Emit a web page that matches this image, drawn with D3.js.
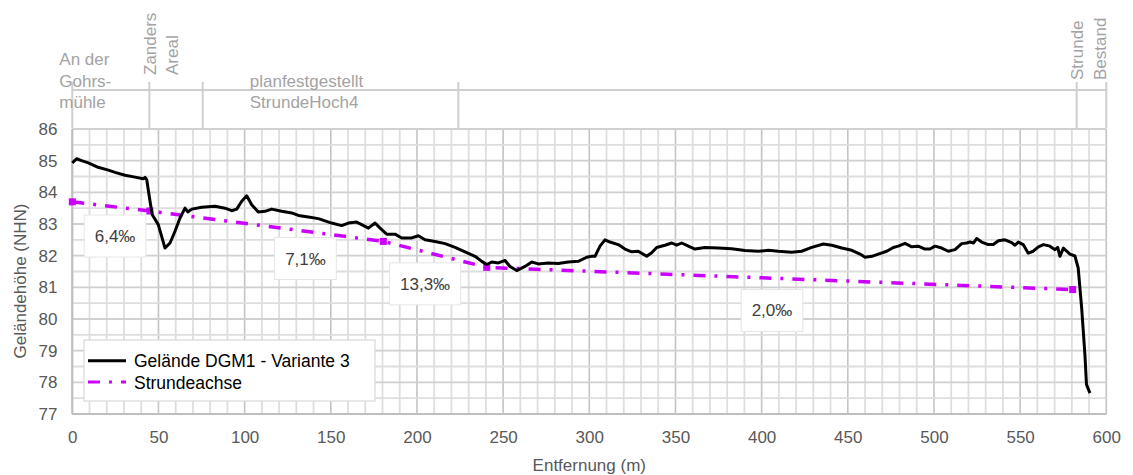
<!DOCTYPE html>
<html><head><meta charset="utf-8">
<script src="https://cdn.jsdelivr.net/npm/d3@7"></script>
<style>body{margin:0;background:#fff;} text{font-family:"Liberation Sans",Arial,sans-serif;}</style>
</head><body><svg id="c" width="1133" height="475"></svg>
<script>
// Terrain profile "Gelände DGM1 - Variante 3"
const distance = [0,2.5,5.4,9.3,15,20.9,24.8,30.6,36.4,41.2,42.2,43.2,45.1,46.4,49.9,53.8,56.7,59.6,62.5,65.4,67,69.3,75.1,82.8,88.6,92.5,95.4,98.3,101.2,104.1,107.9,111.8,115.7,121.5,127.3,131.2,137,142.8,146.6,150.5,156.3,160.2,165,167.9,171.8,175.7,178.6,182.4,187.3,191.1,197,200.8,204.7,210.5,216.3,222.1,227.9,233.7,237.6,240.5,243.4,247.2,251.1,254,257.9,262.7,266.6,270.4,276.2,282,287.8,293.6,298.5,301.4,303.3,306.2,309.1,312,316.8,320.7,324.6,328.4,333.3,336.2,339.1,343.9,347.8,350.7,353.6,357.5,361.3,367.1,374.9,382.6,390.3,398.1,403.9,409.7,417.4,423.2,429.1,435.8,440.7,446.5,452.3,457.1,460,463.9,467.7,472.6,476.4,479.3,483.2,487.1,490.9,494.8,497.7,500.6,504.5,508.3,512.2,516.1,519,520.9,522.9,524.8,527.7,531.5,534.4,537.4,541.2,545.1,547,548.9,551.8,554.7,557.6,560.6,563.5,567.3,570.2,571.8,573.1,575.1,577,578.9,581.8,583.7,585.7,587.6,588.5,590.5];
const elevation = [84.93,85.06,85.00,84.93,84.79,84.70,84.63,84.54,84.48,84.43,84.47,84.40,83.72,83.29,82.98,82.24,82.40,82.77,83.19,83.50,83.38,83.47,83.53,83.56,83.50,83.42,83.47,83.72,83.89,83.61,83.38,83.40,83.47,83.40,83.35,83.27,83.22,83.17,83.10,83.03,82.95,83.03,83.06,82.98,82.87,83.03,82.87,82.68,82.68,82.56,82.56,82.63,82.50,82.45,82.38,82.26,82.12,81.98,81.82,81.72,81.80,81.77,81.85,81.66,81.53,81.66,81.80,81.74,81.77,81.75,81.80,81.82,81.95,81.98,81.98,82.30,82.50,82.43,82.35,82.21,82.12,82.14,81.98,82.09,82.26,82.33,82.40,82.33,82.40,82.30,82.21,82.26,82.24,82.22,82.16,82.14,82.17,82.14,82.11,82.14,82.26,82.37,82.33,82.24,82.17,82.05,81.95,81.98,82.05,82.14,82.26,82.30,82.39,82.28,82.30,82.21,82.21,82.30,82.24,82.14,82.19,82.38,82.40,82.43,82.40,82.54,82.43,82.35,82.35,82.47,82.50,82.41,82.33,82.43,82.35,82.08,82.14,82.28,82.35,82.30,82.19,82.26,81.98,82.24,82.14,82.05,81.99,81.61,80.35,78.87,77.93,77.66];

// Strundeachse
const axisDistance = [0,45,180.5,240.5,580.5];
const axisElevation = [83.70,83.41,82.45,81.63,80.93];

// Slope annotations
const slopeLabels = ["6,4‰","7,1‰","13,3‰","2,0‰"];
const slopeLabelX = [24.8,135.3,204.7,406];
const slopeLabelY = [82.62,81.91,81.11,80.27];

// Sections in header band
const sectionBounds = [0,44.7,75.7,224,582.8,600];

const xTicks = [0,50,100,150,200,250,300,350,400,450,500,550,600];
const yTicks = [77,78,79,80,81,82,83,84,85,86];

const seriesNames = ["Gelände DGM1 - Variante 3","Strundeachse"];

const svg = d3.select("#c");
const x = d3.scaleLinear().domain([0,600]).range([72.3,1106.3]);
const y = d3.scaleLinear().domain([77,86]).range([414,129]);

const FS = 17;
const gridG = svg.append("g");
// minor grid
gridG.selectAll("line.vx").data(d3.range(0,601,10)).join("line")
  .attr("x1",d=>x(d)).attr("x2",d=>x(d)).attr("y1",y(77)).attr("y2",y(86))
  .attr("stroke",d=> d%50===0 ? "#c4c4c4" : "#dedede").attr("stroke-width",d=> d%50===0?1.6:1.8);
gridG.selectAll("line.hy").data(d3.range(77,86.01,0.5)).join("line")
  .attr("y1",d=>y(d)).attr("y2",d=>y(d)).attr("x1",x(0)).attr("x2",x(600))
  .attr("stroke",d=> Math.abs(d-Math.round(d))<1e-6 ? "#d0d0d0" : "#dedede").attr("stroke-width",1.8);

// axis lines
svg.append("line").attr("x1",x(0)).attr("x2",x(600)).attr("y1",y(77)).attr("y2",y(77)).attr("stroke","#bfbfbf").attr("stroke-width",2);
svg.append("line").attr("x1",x(0)).attr("x2",x(0)).attr("y1",y(77)).attr("y2",y(86)).attr("stroke","#bfbfbf").attr("stroke-width",2);

// header band
const hdr = svg.append("g");
hdr.append("line").attr("x1",x(0)).attr("x2",x(600)).attr("y1",90).attr("y2",90).attr("stroke","#cfcfcf").attr("stroke-width",2);
hdr.selectAll("line.sb").data(sectionBounds).join("line")
  .attr("x1",d=>x(d)).attr("x2",d=>x(d)).attr("y1",82).attr("y2",128)
  .attr("stroke","#cfcfcf").attr("stroke-width",2);
const hc = "#a3a3a3";
const t1 = hdr.append("text").attr("x",59.3).attr("fill",hc).style("font-size",FS+"px");
[["An der",65],["Gohrs-",87.3],["mühle",107.5]].forEach(([s,yy])=>t1.append("tspan").attr("x",59.3).attr("y",yy).text(s));
const t2 = hdr.append("text").attr("fill",hc).style("font-size",FS+"px");
[["planfestgestellt",86.5],["StrundeHoch4",107.5]].forEach(([s,yy])=>t2.append("tspan").attr("x",x(sectionBounds[2])+47).attr("y",yy).text(s));
function vlab(s,bx,by){
  hdr.append("text").attr("transform",`translate(${bx},${by}) rotate(-90)`).attr("fill",hc).style("font-size",FS+"px").text(s);
}
vlab("Zanders",x(sectionBounds[1])+6.5,75);
vlab("Areal",x(sectionBounds[1])+28.8,75);
vlab("Strunde",x(sectionBounds[4])+6.3,80);
vlab("Bestand",x(sectionBounds[5])-0.3,80);

// axes
const xa = svg.append("g").attr("transform",`translate(0,${y(77)})`)
  .call(d3.axisBottom(x).tickValues(xTicks).tickSize(0).tickPadding(17).tickFormat(d3.format("d")));
const ya = svg.append("g").attr("transform",`translate(${x(0)},0)`)
  .call(d3.axisLeft(y).tickValues(yTicks).tickSize(0).tickPadding(14.8).tickFormat(d3.format("d")));
[xa,ya].forEach(g=>{g.select(".domain").remove();
  g.selectAll("text").attr("fill","#595959").style("font-size",FS+"px").style("font-family",'"Liberation Sans",Arial,sans-serif');});

svg.append("text").attr("x",(x(0)+x(600))/2).attr("y",471).attr("text-anchor","middle")
  .attr("fill","#595959").style("font-size",FS+"px").text("Entfernung (m)");
svg.append("text").attr("transform",`translate(26,281) rotate(-90)`).attr("text-anchor","middle")
  .attr("fill","#595959").style("font-size",FS+"px").text("Geländehöhe (NHN)");

// slope labels
const lg = svg.append("g");
slopeLabels.forEach((s,i)=>{
  const cx = x(slopeLabelX[i]), cy = y(slopeLabelY[i]);
  const t = lg.append("text").attr("x",cx).attr("y",cy+6).attr("text-anchor","middle")
    .attr("fill","#404040").style("font-size",FS+"px").text(s);
  const w = t.node().getComputedTextLength();
  lg.insert("rect","text").attr("x",cx-w/2-10.5).attr("y",cy-21).attr("width",w+21).attr("height",42)
    .attr("fill","#fff").attr("stroke","#e6e6e6").attr("stroke-width",1);
});

// Strundeachse line
const axisPts = axisDistance.map((d,i)=>[d,axisElevation[i]]);
const lineGen = d3.line().x(d=>x(d[0])).y(d=>y(d[1]));
svg.append("path").attr("d",lineGen(axisPts)).attr("fill","none")
  .attr("stroke","#cc00ff").attr("stroke-width",3.5).attr("stroke-dasharray","12,9,3,9");
svg.selectAll("rect.mk").data(axisPts).join("rect")
  .attr("x",d=>x(d[0])-3.5).attr("y",d=>y(d[1])-3.5).attr("width",7).attr("height",7).attr("fill","#cc00ff");

// terrain
const terr = distance.map((d,i)=>[d,elevation[i]]);
svg.append("path").attr("d",lineGen(terr)).attr("fill","none")
  .attr("stroke","#000").attr("stroke-width",3).attr("stroke-linejoin","round");

// legend
const leg = svg.append("g");
leg.append("rect").attr("x",84).attr("y",340).attr("width",291).attr("height",61)
  .attr("fill","#fff").attr("stroke","#d9d9d9").attr("stroke-width",1.2);
leg.append("line").attr("x1",88).attr("x2",126).attr("y1",360.7).attr("y2",360.7).attr("stroke","#000").attr("stroke-width",3);
leg.append("line").attr("x1",88).attr("x2",126).attr("y1",382).attr("y2",382).attr("stroke","#cc00ff").attr("stroke-width",3).attr("stroke-dasharray","12,9,3,9");
leg.append("text").attr("x",134).attr("y",367).attr("fill","#000").style("font-size","17.5px").text(seriesNames[0]);
leg.append("text").attr("x",134).attr("y",388.5).attr("fill","#000").style("font-size","17.5px").text(seriesNames[1]);
</script></body></html>
